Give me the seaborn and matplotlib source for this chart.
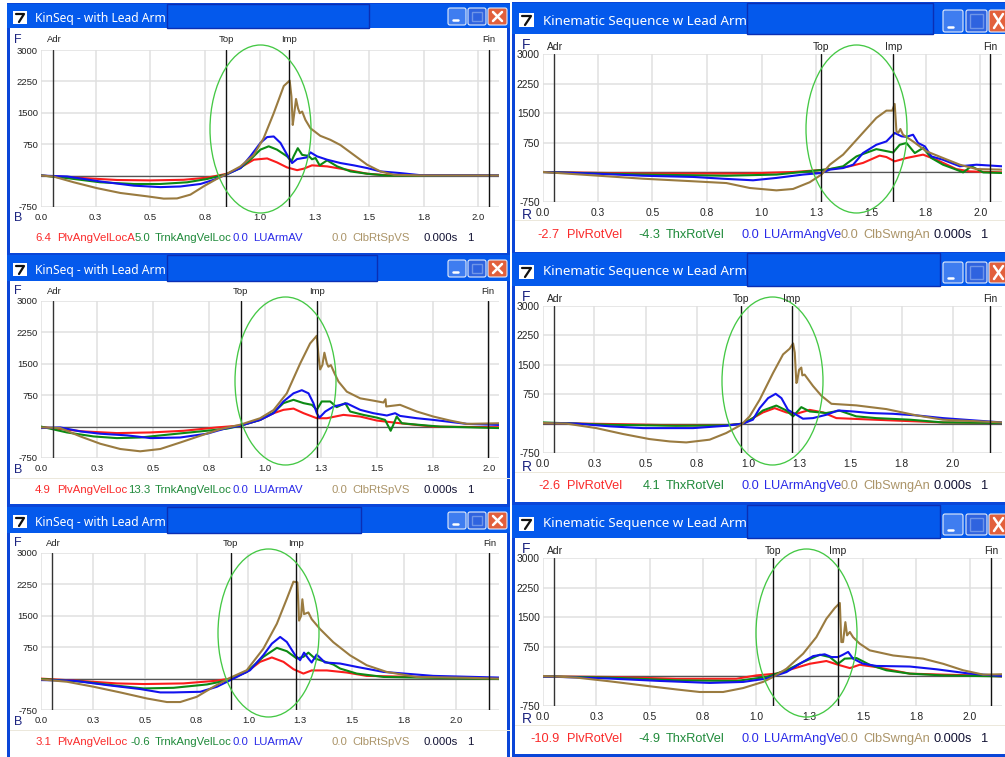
import matplotlib
matplotlib.use("Agg")
import matplotlib.pyplot as plt
import seaborn as sns
from matplotlib.patches import Rectangle, Ellipse, FancyBboxPatch

# Curves: time in s, velocity in deg/s
p1_red_t = [0, .195, .348, .5, .652, .759, .851, .912, .973, 1.034, 1.079, 1.125, 1.171, 1.201, 1.239, 1.308, 1.399, 1.491, 1.582, 2.096]
p1_red_v = [0, -60, -105, -115, -100, -50, 45, 195, 380, 410, 315, 195, 130, 165, 245, 220, 140, 45, 10, 0]
p1_green_t = [0, .119, .271, .424, .546, .668, .76, .851, .912, .957, 1.003, 1.041, 1.079, 1.125, 1.145, 1.155, 1.174, 1.194, 1.224, 1.239, 1.255, 1.274, 1.308, 1.354, 1.415, 1.491, 1.582, 2.096]
p1_green_v = [5, -60, -160, -200, -200, -160, -80, 35, 180, 380, 620, 700, 620, 460, 340, 460, 655, 495, 470, 390, 420, 245, 365, 220, 100, 45, 0, 0]
p1_blue_t = [0, .119, .271, .424, .546, .637, .729, .79, .851, .912, .957, 1.003, 1.034, 1.064, 1.095, 1.125, 1.148, 1.171, 1.216, 1.232, 1.262, 1.308, 1.369, 1.43, 1.491, 1.552, 1.643, 1.735, 2.096]
p1_blue_v = [0, -20, -140, -240, -275, -260, -200, -100, 35, 180, 460, 780, 920, 935, 780, 500, 300, 395, 435, 555, 460, 380, 300, 245, 180, 100, 60, 10, 0]
p1_brown_t = [0, .055, .15, .256, .363, .485, .561, .622, .683, .744, .805, .851, .912, .973, 1.018, 1.064, 1.11, 1.137, 1.145, 1.151, 1.157, 1.166, 1.175, 1.183, 1.194, 1.209, 1.232, 1.277, 1.323, 1.369, 1.43, 1.491, 1.552, 1.613, 1.735, 2.096]
p1_brown_v = [0, -20, -160, -300, -415, -495, -550, -545, -455, -255, -75, 45, 220, 495, 895, 1490, 2140, 2270, 1890, 1210, 1450, 1830, 1610, 1490, 1530, 1330, 1130, 950, 855, 730, 495, 260, 100, 20, 5, 0]

p2_red_t = [0, .458, .915, 1.144, 1.297, 1.403, 1.464, 1.54, 1.571, 1.609, 1.663, 1.739, 1.8, 1.891, 1.952, 2.1]
p2_red_v = [10, -30, -30, 10, 70, 155, 240, 425, 390, 280, 365, 450, 320, 85, 25, 0]
p2_green_t = [0, .458, .839, 1.068, 1.22, 1.312, 1.373, 1.434, 1.525, 1.602, 1.632, 1.663, 1.701, 1.739, 1.777, 1.83, 1.891, 1.922, 1.96, 2.014, 2.1]
p2_green_v = [10, -55, -85, -55, 30, 85, 155, 405, 590, 505, 700, 745, 490, 620, 365, 195, 70, 0, 155, 0, -15]
p2_blue_t = [0, .229, .458, .687, .839, .961, 1.068, 1.19, 1.274, 1.312, 1.373, 1.419, 1.464, 1.525, 1.571, 1.609, 1.64, 1.662, 1.693, 1.716, 1.747, 1.777, 1.83, 1.907, 1.983, 2.1]
p2_blue_v = [10, -30, -85, -115, -165, -200, -140, -55, -15, 70, 110, 195, 490, 700, 785, 1000, 915, 900, 955, 745, 660, 405, 320, 155, 195, 155]
p2_brown_t = [0, .229, .458, .687, .839, .946, 1.068, 1.144, 1.22, 1.274, 1.312, 1.373, 1.449, 1.525, 1.571, 1.598, 1.609, 1.617, 1.625, 1.635, 1.647, 1.693, 1.754, 1.83, 1.907, 1.983, 2.1]
p2_brown_v = [10, -75, -160, -225, -270, -395, -455, -420, -250, -55, 195, 450, 915, 1380, 1565, 1565, 1735, 1040, 1000, 1100, 955, 785, 535, 365, 195, 85, 70]

p3_red_t = [0, .19, .339, .488, .637, .786, .89, .979, 1.039, 1.083, 1.128, 1.173, 1.232, 1.277, 1.351, 1.426, 1.5, 1.604, 1.753, 2.046]
p3_red_v = [-10, -115, -155, -140, -100, -20, 25, 160, 320, 400, 430, 320, 200, 200, 280, 240, 145, 80, 0, -15]
p3_green_t = [0, .116, .235, .339, .443, .562, .711, .83, .89, .979, 1.039, 1.083, 1.128, 1.173, 1.21, 1.232, 1.254, 1.292, 1.321, 1.359, 1.381, 1.44, 1.5, 1.537, 1.562, 1.574, 1.589, 1.612, 1.693, 1.783, 2.046]
p3_green_v = [0, -140, -235, -275, -260, -195, -115, -50, 20, 160, 335, 560, 640, 560, 520, 400, 600, 600, 465, 560, 360, 280, 215, 160, -100, 45, 240, 80, 40, 0, -35]
p3_blue_t = [0, .086, .176, .265, .385, .49, .622, .741, .83, .89, .979, 1.039, 1.083, 1.128, 1.165, 1.195, 1.217, 1.232, 1.244, 1.27, 1.307, 1.366, 1.426, 1.485, 1.545, 1.582, 1.604, 1.679, 1.753, 1.902, 2.046]
p3_blue_v = [-35, -20, -115, -170, -210, -275, -260, -170, -35, 20, 160, 320, 600, 795, 870, 795, 560, 320, 215, 360, 480, 555, 400, 320, 265, 320, 255, 200, 160, 65, 40]
p3_brown_t = [0, .086, .176, .265, .354, .443, .533, .622, .711, .801, .89, .979, 1.039, 1.098, 1.158, 1.202, 1.232, 1.24, 1.247, 1.257, 1.266, 1.277, 1.284, 1.295, 1.311, 1.329, 1.366, 1.426, 1.485, 1.53, 1.539, 1.542, 1.604, 1.679, 1.753, 1.827, 1.902, 2.046]
p3_brown_v = [-20, -35, -235, -410, -535, -590, -535, -380, -220, -60, 45, 200, 395, 795, 1510, 1985, 2170, 1670, 1365, 1470, 1765, 1510, 1430, 1470, 1275, 1075, 835, 675, 620, 575, 655, 480, 520, 360, 240, 145, 65, 80]

p4_red_t = [0, .325, .65, .894, .976, 1.024, 1.073, 1.13, 1.187, 1.236, 1.301, 1.366, 1.431, 1.545, 1.707, 1.951, 2.239]
p4_red_v = [15, -10, -45, -45, 0, 140, 285, 395, 285, 250, 350, 285, 140, 115, 80, 30, 15]
p4_green_t = [0, .325, .65, .894, .976, 1.024, 1.073, 1.138, 1.187, 1.22, 1.26, 1.301, 1.382, 1.447, 1.528, 1.626, 1.789, 1.951, 2.239]
p4_green_v = [30, -30, -55, -45, 0, 140, 335, 460, 335, 185, 420, 310, 270, 330, 185, 140, 100, 30, 15]
p4_blue_t = [0, .163, .325, .488, .732, .894, .976, 1.024, 1.057, 1.098, 1.135, 1.163, 1.195, 1.236, 1.268, 1.317, 1.382, 1.439, 1.512, 1.593, 1.707, 1.821, 1.951, 2.239]
p4_blue_v = [15, 0, -70, -115, -115, -55, 0, 100, 395, 650, 760, 650, 350, 225, 125, 140, 225, 335, 310, 270, 250, 210, 140, 30]
p4_brown_t = [0, .114, .26, .39, .52, .618, .699, .813, .894, .967, 1.008, 1.057, 1.122, 1.171, 1.203, 1.22, 1.228, 1.236, 1.239, 1.249, 1.26, 1.265, 1.276, 1.317, 1.358, 1.407, 1.528, 1.675, 1.821, 1.951, 2.239]
p4_brown_v = [15, 0, -115, -265, -395, -455, -480, -410, -240, -30, 185, 610, 1290, 1765, 1910, 2045, 1810, 1035, 1060, 1370, 1430, 1230, 1250, 960, 710, 505, 465, 370, 210, 100, 30]

p5_red_t = [0, .205, .366, .495, .687, .848, .912, .992, 1.056, 1.113, 1.169, 1.217, 1.265, 1.305, 1.378, 1.474, 1.57, 2.208]
p5_red_v = [0, -60, -115, -130, -115, -50, 0, 160, 400, 505, 400, 225, 120, 195, 195, 145, 65, 0]
p5_green_t = [0, .205, .366, .495, .639, .8, .896, .992, 1.072, 1.137, 1.185, 1.233, 1.265, 1.289, 1.321, 1.362, 1.41, 1.442, 1.522, 1.651, 2.208]
p5_green_v = [-10, -75, -170, -235, -220, -140, -45, 160, 520, 735, 655, 480, 520, 620, 480, 415, 335, 240, 120, 40, -10]
p5_blue_t = [0, .157, .318, .479, .575, .639, .768, .848, .928, 1.008, 1.072, 1.113, 1.153, 1.185, 1.225, 1.249, 1.268, 1.289, 1.305, 1.329, 1.369, 1.442, 1.522, 1.651, 1.891, 2.208]
p5_blue_v = [-35, -50, -155, -250, -330, -330, -315, -195, 0, 200, 560, 835, 995, 875, 560, 440, 620, 480, 385, 575, 385, 360, 280, 160, 65, 25]
p5_brown_t = [0, .125, .254, .382, .511, .607, .671, .751, .832, .912, .992, 1.072, 1.137, 1.185, 1.217, 1.236, 1.244, 1.254, 1.26, 1.268, 1.289, 1.305, 1.345, 1.409, 1.49, 1.57, 1.666, 1.81, 2.049, 2.208]
p5_brown_v = [-20, -75, -195, -330, -475, -560, -560, -435, -195, 20, 200, 715, 1310, 1905, 2315, 2300, 1385, 1500, 1895, 1540, 1580, 1420, 1185, 870, 555, 320, 160, 40, 20, 0]

p6_red_t = [0, .313, .625, .906, 1.0, 1.094, 1.172, 1.25, 1.328, 1.383, 1.438, 1.484, 1.563, 1.719, 1.875, 2.031, 2.152]
p6_red_v = [0, -15, -60, -60, 25, 70, 195, 320, 390, 295, 210, 295, 235, 70, 45, 25, 0]
p6_green_t = [0, .313, .625, .906, 1.047, 1.141, 1.219, 1.297, 1.344, 1.383, 1.414, 1.469, 1.531, 1.609, 1.719, 1.875, 2.152]
p6_green_v = [0, -30, -100, -115, -15, 155, 365, 550, 490, 320, 450, 465, 295, 155, 70, 25, 0]
p6_blue_t = [0, .313, .547, .781, .938, 1.047, 1.141, 1.203, 1.266, 1.32, 1.352, 1.383, 1.406, 1.43, 1.453, 1.5, 1.563, 1.719, 1.844, 2.0, 2.152]
p6_blue_v = [0, -55, -115, -165, -140, -55, 110, 320, 515, 560, 490, 490, 550, 620, 450, 320, 265, 250, 180, 70, 10]
p6_brown_t = [0, .156, .313, .5, .625, .734, .844, .938, 1.031, 1.078, 1.141, 1.219, 1.281, 1.328, 1.367, 1.391, 1.398, 1.406, 1.417, 1.425, 1.438, 1.453, 1.484, 1.531, 1.641, 1.781, 1.875, 1.969, 2.063, 2.152]
p6_brown_v = [10, -30, -125, -250, -330, -395, -395, -295, -140, -15, 195, 575, 995, 1460, 1730, 1860, 870, 870, 1375, 1040, 1125, 995, 830, 660, 530, 450, 320, 155, 45, 55]

# Event times in s: Adr, Top, Imp, Fin
event_names = ["Adr", "Top", "Imp", "Fin"]
p1_events = [.055, .848, 1.133, 2.047]
p2_events = [.05, 1.274, 1.602, 2.045]
p3_events = [.054, .892, 1.232, 1.998]
p4_events = [.054, .968, 1.213, 2.18]
p5_events = [.053, .914, 1.227, 2.162]
p6_events = [.052, 1.077, 1.381, 2.1]

y_ticks = [-750, 0, 750, 1500, 2250, 3000]
y_labels = ["-750", "", "750", "1500", "2250", "3000"]
x_ticks = [0, .25, .5, .75, 1.0, 1.25, 1.5, 1.75, 2.0]
x_labels = ["0.0", "0.3", "0.5", "0.8", "1.0", "1.3", "1.5", "1.8", "2.0"]

# the app clips each name where the next value starts, so these differ per window
p1_names = ["PlvAngVelLocA", "TrnkAngVelLoc", "LUArmAV", "ClbRtSpVS"]
p3_names = ["PlvAngVelLoc", "TrnkAngVelLoc", "LUArmAV", "ClbRtSpVS"]
right_names = ["PlvRotVel", "ThxRotVel", "LUArmAngVe", "ClbSwngAn"]
p1_readout = ["6.4", "5.0", "0.0", "0.0"]
p2_readout = ["-2.7", "-4.3", "0.0", "0.0"]
p3_readout = ["4.9", "13.3", "0.0", "0.0"]
p4_readout = ["-2.6", "4.1", "0.0", "0.0"]
p5_readout = ["3.1", "-0.6", "0.0", "0.0"]
p6_readout = ["-10.9", "-4.9", "0.0", "0.0"]

RED, GREEN, BLUE, BROWN = "#fb1c1c", "#0c8a14", "#1212ee", "#9a7b40"
TEXT_COLS = ["#fa2a2a", "#1f8a3a", "#2a2ae8", "#ab9468"]
FRAME = "#0a46d8"
BAR = "#0459ec"

# Layout in picture pixels
panels = [
    dict(series=[(p1_red_t, p1_red_v), (p1_green_t, p1_green_v), (p1_blue_t, p1_blue_v), (p1_brown_t, p1_brown_v)],
         events=p1_events, readout=p1_readout, names=p1_names, title="KinSeq - with Lead Arm", side="L", xmax=2.094,
         win=(7, 4, 510, 253), bar=28, inner=(167, 369), box=(41, 50, 499, 207), ell=(210, 45, 311, 213), leg=238,
         btn=(8, 25), icon=(13, 11), sep=None, letter=("F", "B", 14, 40, 218), ev_y=40),
    dict(series=[(p2_red_t, p2_red_v), (p2_green_t, p2_green_v), (p2_blue_t, p2_blue_v), (p2_brown_t, p2_brown_v)],
         events=p2_events, readout=p2_readout, names=right_names, title="Kinematic Sequence w Lead Arm", side="R", xmax=2.10,
         win=(512, 3, 1005, 252), bar=34, inner=(747, 933), box=(543, 54, 1002, 202), ell=(806, 45, 907, 213), leg=235,
         btn=(10, 32), icon=(519, 13), sep=220, letter=("F", "R", 522, 45, 215), ev_y=47),
    dict(series=[(p3_red_t, p3_red_v), (p3_green_t, p3_green_v), (p3_blue_t, p3_blue_v), (p3_brown_t, p3_brown_v)],
         events=p3_events, readout=p3_readout, names=p3_names, title="KinSeq - with Lead Arm", side="L", xmax=2.046,
         win=(7, 255, 510, 504), bar=281, inner=(167, 377), box=(41, 301, 499, 458), ell=(235, 297, 336, 465), leg=490,
         btn=(260, 277), icon=(13, 263), sep=478, letter=("F", "B", 14, 291, 470), ev_y=292),
    dict(series=[(p4_red_t, p4_red_v), (p4_green_t, p4_green_v), (p4_blue_t, p4_blue_v), (p4_brown_t, p4_brown_v)],
         events=p4_events, readout=p4_readout, names=right_names, title="Kinematic Sequence w Lead Arm", side="R", xmax=2.239,
         win=(512, 253, 1005, 502), bar=286, inner=(747, 940), box=(543, 306, 1002, 453), ell=(722, 297, 823, 465), leg=486,
         btn=(262, 283), icon=(519, 265), sep=472, letter=("F", "R", 522, 297, 467), ev_y=299),
    dict(series=[(p5_red_t, p5_red_v), (p5_green_t, p5_green_v), (p5_blue_t, p5_blue_v), (p5_brown_t, p5_brown_v)],
         events=p5_events, readout=p5_readout, names=p3_names, title="KinSeq - with Lead Arm", side="L", xmax=2.208,
         win=(7, 507, 510, 757), bar=533, inner=(167, 361), box=(41, 553, 499, 710), ell=(218, 549, 319, 717), leg=742,
         btn=(512, 529), icon=(13, 515), sep=730, letter=("F", "B", 14, 543, 722), ev_y=544),
    dict(series=[(p6_red_t, p6_red_v), (p6_green_t, p6_green_v), (p6_blue_t, p6_blue_v), (p6_brown_t, p6_brown_v)],
         events=p6_events, readout=p6_readout, names=right_names, title="Kinematic Sequence w Lead Arm", side="R", xmax=2.151,
         win=(512, 505, 1005, 754), bar=538, inner=(747, 940), box=(543, 558, 1002, 706), ell=(756, 549, 857, 717), leg=739,
         btn=(514, 535), icon=(519, 517), sep=725, letter=("F", "R", 522, 549, 719), ev_y=551),
]

W, H = 1005, 757
sns.set_style("white")
plt.rcParams["font.family"] = ["Liberation Sans", "DejaVu Sans"]

fig = plt.figure(figsize=(W / 100, H / 100), dpi=100, facecolor="white")

# Page sized axes for the window chrome, in pixels
chrome = fig.add_axes([0, 0, 1, 1], zorder=0)
chrome.set_xlim(0, W)
chrome.set_ylim(H, 0)
chrome.axis("off")

overlay = fig.add_axes([0, 0, 1, 1], zorder=5)
overlay.set_xlim(0, W)
overlay.set_ylim(H, 0)
overlay.axis("off")
overlay.patch.set_alpha(0)


def rect(x0, y0, x1, y1, **kw):
    chrome.add_patch(Rectangle((x0, y0), x1 - x0, y1 - y0, **kw))


def button(ax, x0, y0, x1, y1, col):
    ax.add_patch(FancyBboxPatch((x0 + 2, y0 + 2), x1 - x0 - 4, y1 - y0 - 4, boxstyle="round,pad=2",
                                fc=col, ec="#e4ecfa", lw=.8, clip_on=True))


for p in panels:
    x0, y0, x1, y1 = p["win"]
    big = p["side"] == "R"
    tick_size = 7.4 if big else 6.8
    leg_size = 9.2 if big else 8.2

    # window frame and title bar
    rect(x0, y0 - 1, x1, y1 + 3, fc=FRAME, ec="none")
    rect(x0 + 3, p["bar"], x1 - 3 if not big else x1, y1, fc="white", ec="none")
    rect(x0, y0, x1, p["bar"], fc=BAR, ec="none")
    rect(p["inner"][0], y0, p["inner"][1], p["bar"], fc=BAR, ec="#0b2fb4", lw=1)

    ix, iy = p["icon"]
    size = 15 if big else 14
    rect(ix, iy, ix + size, iy + size - 1, fc="white", ec="none")
    chrome.plot([ix + 3, ix + size - 3, ix + 6], [iy + 3, iy + 3, iy + size - 3], color="#111111", lw=1.6)

    chrome.text(x0 + (31 if big else 28), (y0 + p["bar"]) / 2 + 2.5, p["title"], color="white", va="center", ha="left",
                fontsize=9.6 if big else 8.7, family=["Noto Sans", "DejaVu Sans"], fontweight="medium")

    # min, max, close buttons
    by0, by1 = p["btn"]
    if big:
        cols = [(943, 963, "#3f7df0"), (966, 987, "#2f63df"), (989, 1010, "#e2603c")]
    else:
        cols = [(448, 466, "#3f7df0"), (468, 486, "#2f63df"), (488, 507, "#e2603c")]
    for bx0, bx1, col in cols:
        button(chrome, bx0, by0, bx1, by1, col)
    bx0, bx1, _ = cols[0]
    chrome.plot([bx0 + 5, bx0 + 10], [by1 - 5, by1 - 5], color="white", lw=1.8)
    bx0, bx1, _ = cols[1]
    rect(bx0 + 4, by0 + 4, bx1 - 4, by1 - 4, fc="none", ec="#6f95e8", lw=1)
    bx0, bx1, _ = cols[2]
    chrome.plot([bx0 + 5, bx0 + 14], [by0 + 4, by1 - 4], color="white", lw=1.8)
    chrome.plot([bx0 + 5, bx0 + 14], [by1 - 4, by0 + 4], color="white", lw=1.8)

    if p["sep"]:
        rect(x0 + 3, p["sep"], x1, p["sep"] + 1, fc="#ece8dc", ec="none")

    # the plot itself
    l, t, r, b = p["box"]
    ax = fig.add_axes([l / W, 1 - b / H, (r - l) / W, (b - t) / H], zorder=2)
    ax.patch.set_alpha(0)
    for (st, sv), col in zip(p["series"], [RED, GREEN, BLUE, BROWN]):
        sns.lineplot(x=st, y=sv, color=col, linewidth=1.5, estimator=None, errorbar=None, legend=False, ax=ax)
    ax.set_xlim(0, p["xmax"])
    ax.set_ylim(-750, 3000)
    ax.set_xticks([v for v in x_ticks if v <= p["xmax"]])
    ax.set_xticklabels(x_labels[:len(ax.get_xticks())], fontsize=tick_size, color="#222222")
    ax.set_yticks(y_ticks)
    ax.set_yticklabels(y_labels, fontsize=tick_size, color="#222222")
    ax.tick_params(length=0, pad=2.2)
    ax.tick_params(axis="x", pad=4.5)
    ax.grid(True, color="#e0e0e0", lw=1.1)
    ax.set_axisbelow(True)
    sns.despine(ax=ax, left=True, bottom=True)
    ax.axhline(0, color="#555555", lw=.9, zorder=1.5)
    for name, ev in zip(event_names, p["events"]):
        ax.axvline(ev, color="#111111" if name != "Adr" else "#333333", lw=1.0, zorder=3)
        overlay.text(l + (r - l) * ev / p["xmax"] + (1 if name == "Adr" else 0), p["ev_y"], name, ha="center", va="center",
                     fontsize=tick_size, color="#222222")

    # green ring round the downswing
    ex0, ey0, ex1, ey1 = p["ell"]
    overlay.add_patch(Ellipse(((ex0 + ex1) / 2, (ey0 + ey1) / 2), ex1 - ex0, ey1 - ey0, fc="none", ec="#45c845", lw=.95))

    f_txt, b_txt, lx, fy, by = p["letter"]
    overlay.text(lx, fy, f_txt, color="#1c2480", fontsize=10 if big else 9, va="center")
    overlay.text(lx, by, b_txt, color="#1c2480", fontsize=10 if big else 9, va="center")

    # readout row under the plot
    if big:
        val_end = [560, 660, 759, 858]
        name_x = [567, 666, 764, 863]
        clock = (934, 981)
    else:
        val_end = [51, 150, 248, 347]
        name_x = [57, 155, 253, 352]
        clock = (424, 467)
    for val, name, ve, nx, col in zip(p["readout"], p["names"], val_end, name_x, TEXT_COLS):
        chrome.text(ve, p["leg"], val, ha="right", va="center", fontsize=leg_size, color=col)
        chrome.text(nx, p["leg"], name, ha="left", va="center", fontsize=leg_size, color=col)
    chrome.text(clock[0], p["leg"], "0.000s", ha="left", va="center", fontsize=leg_size, color="#111133")
    chrome.text(clock[1], p["leg"], "1", ha="left", va="center", fontsize=leg_size, color="#111133")

fig.savefig("out.png", dpi=100)
